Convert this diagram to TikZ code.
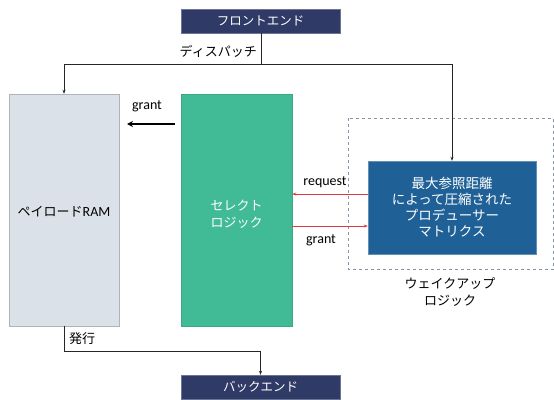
\documentclass[tikz,border=0pt]{standalone}
\usepackage{fontspec}
\setmainfont{Carlito}
\newfontfamily\jp{Noto Sans CJK JP}
\usetikzlibrary{arrows.meta}
\definecolor{navy}{HTML}{2F3A66}
\definecolor{ramfill}{HTML}{DBE1E8}
\definecolor{selgreen}{HTML}{41BA96}
\definecolor{matblue}{HTML}{1F6196}
\definecolor{sigred}{HTML}{E23A3A}
\definecolor{dashgray}{HTML}{8595A8}
\begin{document}
\begin{tikzpicture}[x=1pt,y=-1pt,
  endbox/.style={fill=navy,draw=navy!70,text=white,inner sep=0pt,font=\fontsize{12.5}{14}\selectfont\jp},
  blockbox/.style={inner sep=0pt},
  lbl/.style={font=\fontsize{14}{16}\selectfont, inner sep=0pt},
  jlbl/.style={font=\fontsize{13}{17}\selectfont\jp, inner sep=0pt, align=center},
  conn/.style={draw=black!85,line width=0.6pt,-{Stealth[length=4pt,width=3pt]}},
  redsig/.style={draw=sigred,line width=0.6pt,-{Stealth[length=4pt,width=3pt]}}]
\useasboundingbox (0,0) rectangle (554,399);
% boxes
\node[endbox, minimum width=159pt, minimum height=24pt] (fe) at (260.5,21) {フロントエンド};
\node[endbox, minimum width=159pt, minimum height=24pt] (be) at (260.5,387) {バックエンド};
\node[blockbox, fill=ramfill, draw=ramfill!80!black, minimum width=110pt, minimum height=232pt] (ram) at (64,210) {};
\node[jlbl] at (64,212) {ペイロード{\fontsize{14}{16}\selectfont\rmfamily RAM}};
\node[blockbox, fill=selgreen, draw=selgreen!90!black, minimum width=111pt, minimum height=232pt] (sel) at (236.5,210) {};
\node[jlbl, text=white] at (236.5,214) {セレクト\\ロジック};
\draw[dashgray, dashed, line width=0.6pt] (348,118) rectangle (553.5,269);
\node[jlbl] (wl) at (450,292) {ウェイクアップ\\ロジック};
\node[blockbox, fill=matblue, draw=matblue!70!white, minimum width=168pt, minimum height=93pt, text=white, font=\fontsize{13.5}{16}\selectfont\jp, align=center] (mat) at (452,207.5) {最大参照距離\\によって圧縮された\\プロデューサー\\マトリクス};
% dispatch
\coordinate (dj) at (261,64);
\draw[draw=black!85,line width=0.6pt] (fe.south -| dj) -- (dj);
\draw[conn] (dj) -| (ram.north);
\draw[conn] (dj) -| (mat.north);
\node[jlbl, anchor=east] at (257,51) {ディスパッチ};
% issue
\coordinate (ij) at (64,351);
\draw[draw=black!85,line width=0.6pt] (ram.south) -- (ij);
\draw[conn] (ij) -| (be.north);
\node[jlbl, anchor=west] at (69,339) {発行};
% grant thick
\coordinate (g1) at (175,124);
\coordinate (g2) at (127,124);
\draw[line width=1.6pt,-{Stealth[length=6pt,width=6pt]}] (g1) -- (g2);
\node[lbl] at (147,106) {grant};
% request / grant red
\draw[redsig] (mat.west |- 0,194) -- (sel.east |- 0,194);
\node[lbl] at (325,182) {request};
\draw[redsig] (sel.east |- 0,226) -- (mat.west |- 0,226);
\node[lbl] at (321,240) {grant};
\end{tikzpicture}
\end{document}
